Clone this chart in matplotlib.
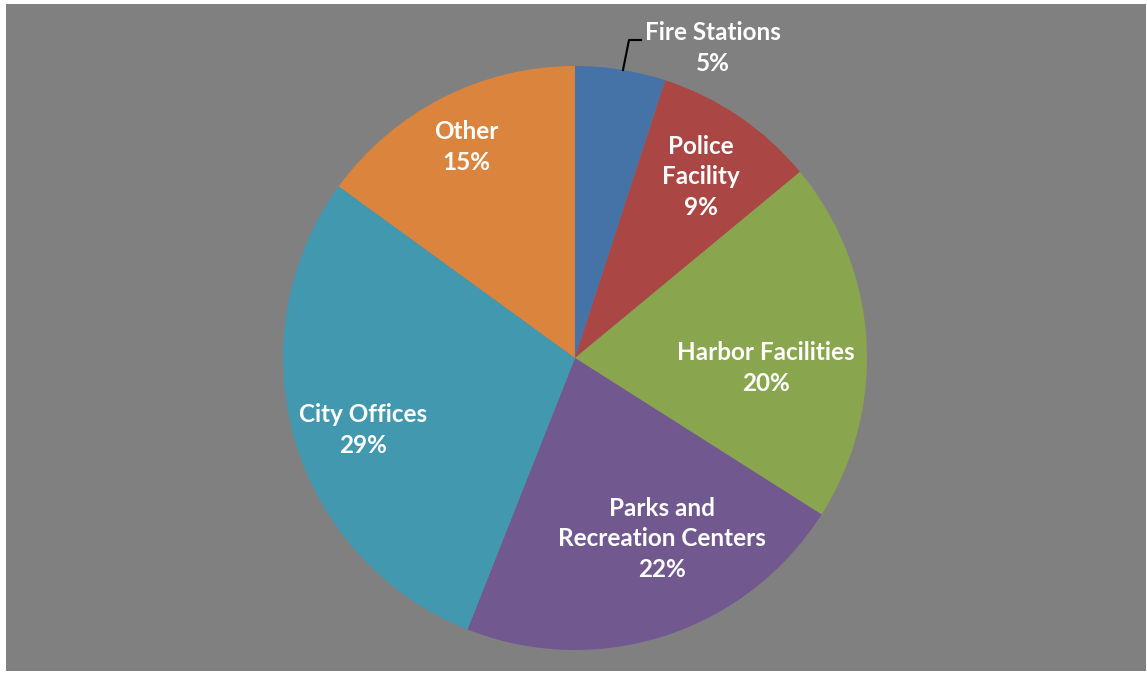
import matplotlib.pyplot as plt
from matplotlib.patches import Rectangle

labels = ["Fire Stations", "Police\nFacility", "Harbor Facilities",
          "Parks and\nRecreation Centers", "City Offices", "Other"]
shares = [5, 9, 20, 22, 29, 15]
colors = ["#4572A7", "#AA4643", "#89A54E", "#71588F", "#4198AF", "#DB843D"]

# label centres in pixel coords (x, y from top)
label_pos = [(713, 48), (701, 177), (766, 368), (662, 539), (363, 430), (466, 147)]

W, H = 1147, 673
fig = plt.figure(figsize=(W / 100, H / 100), dpi=100, facecolor="white")
fig.patches.append(Rectangle((6 / W, 2 / H), (W - 7) / W, (H - 6) / H,
                             transform=fig.transFigure, facecolor="#808080",
                             edgecolor="none", zorder=-10))

ax = fig.add_axes([0, 0, 1, 1])
ax.set_zorder(5)
ax.set_facecolor("none")
cx, cy, r = 575, H - 358, 292
ax.pie(shares, colors=colors, startangle=90, counterclock=False,
       center=(cx, cy), radius=r, wedgeprops=dict(linewidth=0))
ax.set_xlim(0, W)
ax.set_ylim(0, H)
ax.set_aspect("equal")
ax.axis("off")

for lab, val, (x, y) in zip(labels, shares, label_pos):
    ax.text(x, H - y, f"{lab}\n{val}%", ha="center", va="center",
            color="white", fontsize=17.5, fontweight="bold", family="Lato",
            linespacing=1.4)

# leader line for the small slice
ax.plot([623, 629, 641], [H - 70, H - 40, H - 40], color="black", lw=1.5)

fig.savefig("out.png", dpi=100, facecolor="white")
